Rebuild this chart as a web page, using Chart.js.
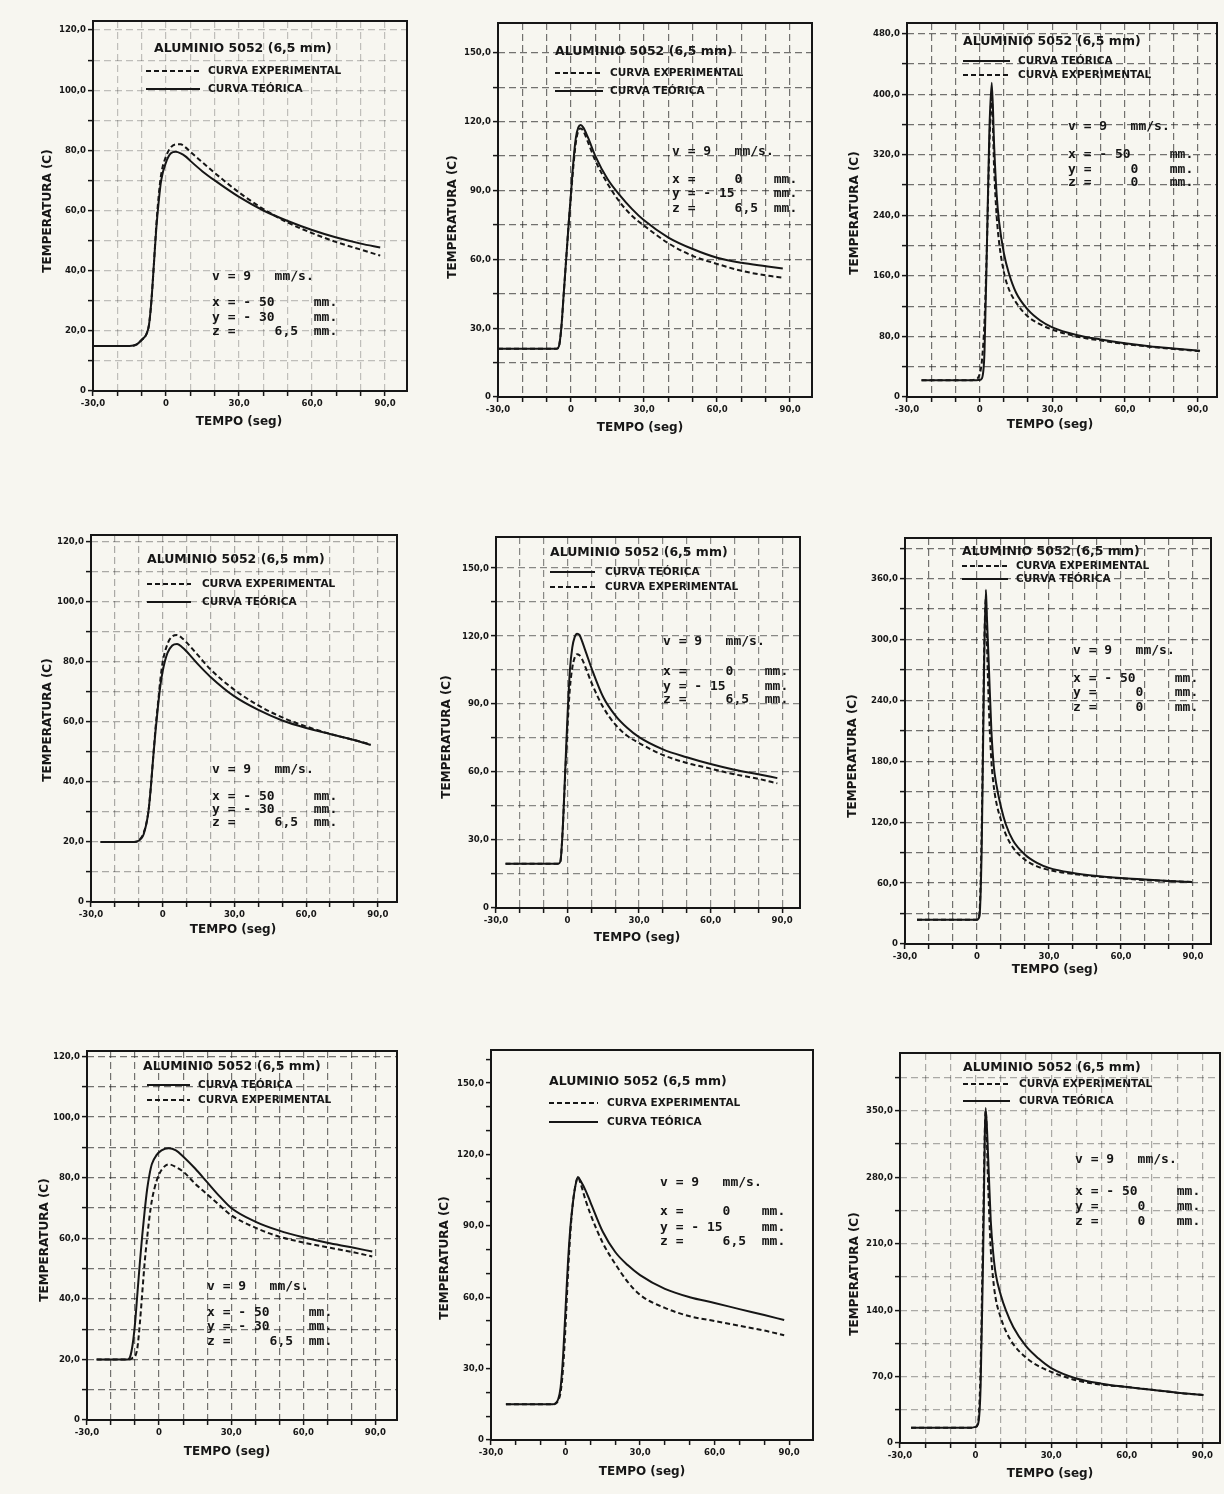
<!DOCTYPE html>
<html>
<head>
<meta charset="utf-8">
<title>Aluminio 5052 - curvas de temperatura</title>
<script src="https://cdn.jsdelivr.net/npm/chart.js@4.4.1/dist/chart.umd.min.js"></script>
<style>
    body { margin: 0; background: #f7f6f0; }
    #hoja { position: relative; width: 1224px; height: 1494px; overflow: hidden; background: #f7f6f0; }
    #hoja canvas { position: absolute; }
</style>
</head>
<body>
<div id="hoja"></div>
<script>
// Tiempos (seg) y temperaturas (C) de cada ensayo
const tiempo1 = [-30, -15, -12, -10, -8, -7, -6, -5, -4, -3, -2, 0, 2, 4, 6, 8, 10, 15, 20, 30, 40, 50, 60, 70, 80, 88];
const experimental1 = [15, 15, 15.5, 17, 19, 22, 30, 42, 55, 65, 72, 78, 81, 82, 82, 81, 79.5, 76, 72.5, 66, 60.5, 56, 52.5, 49.5, 47, 45];
const teorica1 = [15, 15, 15.5, 17, 19, 22, 30, 42, 54, 63, 70, 76, 79, 79.5, 79, 78, 76.5, 73, 70, 64.5, 60, 56.5, 53.5, 51, 49, 47.7];

const tiempo2 = [-30, -6, -5, -4, -3, -2, -1, 0, 1, 2, 3, 4, 5, 7, 10, 15, 20, 25, 30, 40, 50, 60, 70, 80, 87];
const experimental2 = [21, 21, 22, 30, 45, 60, 75, 88, 101, 111, 116, 117, 116, 111, 103, 93, 85, 79, 74.7, 67, 61.5, 58, 55, 53, 52];
const teorica2 = [21, 21, 22, 30, 45, 60, 75, 89, 103, 113, 117.5, 118.5, 117.5, 113, 105, 95, 88, 82, 77, 69.5, 64.5, 60.7, 58.5, 57, 56];

const tiempo3 = [-24, -5, -2, 0, 1, 2, 3, 4, 5, 6, 7, 8, 10, 12, 15, 20, 25, 30, 40, 50, 60, 70, 80, 91];
const experimental3 = [22, 22, 23, 30, 50, 100, 200, 330, 395, 300, 240, 205, 165, 143, 125, 106, 96, 89, 80, 74.5, 70, 66.5, 63.5, 60.5];
const teorica3 = [22, 22, 22, 22.5, 25, 60, 200, 350, 415, 330, 268, 232, 190, 164, 138, 115, 101, 92, 82, 76, 71, 67, 64, 61];

const tiempo4 = [-26, -12, -10, -8, -6, -5, -4, -3, -2, -1, 0, 2, 4, 6, 8, 10, 15, 20, 30, 40, 50, 60, 70, 80, 87];
const experimental4 = [20, 20, 20.5, 23, 30, 38, 48, 58, 66, 74, 80, 86, 88.5, 89, 88, 86.5, 82, 77.5, 70.7, 65.5, 61.5, 58.5, 56, 54, 52.5];
const teorica4 = [20, 20, 20.5, 22.5, 30, 38, 48, 57, 65, 72, 77, 83, 85.5, 86, 85, 83.5, 79, 75, 68.5, 64, 60.5, 58, 56, 54, 52.3];

const tiempo5 = [-26, -4, -3, -2, -1, 0, 1, 2, 3, 4, 5, 6, 8, 10, 15, 20, 25, 30, 40, 50, 60, 70, 80, 88];
const experimental5 = [19.5, 19.5, 20.5, 35, 58, 80, 97, 106, 110.5, 112, 111.5, 110, 105, 99.5, 88.5, 81, 76, 72.8, 67.5, 64, 61.5, 59, 57, 55];
const teorica5 = [19.5, 19.5, 20.5, 35, 60, 85, 105, 115, 119.5, 121, 120.5, 118, 112, 106, 93, 85, 79.5, 75.4, 70, 66.5, 63.5, 61, 59, 57.3];

const tiempo6 = [-25, -2, 0, 1, 2, 3, 3.7, 4, 5, 6, 7, 8, 10, 12, 15, 20, 25, 30, 40, 50, 60, 70, 80, 89.5];
const experimental6 = [24, 24, 24, 30, 120, 290, 340, 310, 230, 180, 155, 140, 122, 108, 95, 83, 76.5, 73, 69, 66.5, 64.7, 63, 62, 61];
const teorica6 = [24, 24, 24, 27, 100, 280, 349, 330, 270, 210, 175, 158, 135, 118, 102, 88, 80, 75, 70, 67, 65, 63.5, 62, 61];

const tiempo7 = [-26, -13, -12, -11, -10, -9, -8, -7, -6, -5, -4, -3, -1, 1, 4, 7, 10, 15, 20, 25, 30, 40, 50, 60, 70, 80, 88.7];
const experimental7 = [20, 20, 20, 20.5, 21, 24, 32, 42, 52, 60, 67, 72.5, 79, 82.5, 84.4, 83.5, 82, 78, 74.5, 71, 67.6, 63.5, 60.5, 58.6, 57, 55.5, 54];
const teorica7 = [20, 20, 21, 25, 32, 42, 52, 61, 69, 76, 81, 84.5, 87.5, 89, 89.7, 89, 87, 83, 78.5, 74, 70, 65.5, 62.5, 60.3, 58.5, 57, 55.6];

const tiempo8 = [-24, -5, -4, -3, -2, -1, 0, 1, 2, 3, 4, 5, 6, 8, 10, 15, 20, 25, 30, 40, 50, 60, 70, 80, 88];
const experimental8 = [15, 15, 15.3, 16.5, 20, 30, 48, 70, 88, 100, 107, 110.5, 108, 101, 95, 82.8, 74, 66.5, 61, 55.5, 52, 50, 48, 46, 44];
const teorica8 = [15, 15, 15.5, 17, 22, 35, 55, 75, 90, 100, 107, 110.5, 109, 105, 100, 87.5, 79, 73.5, 69.3, 63.5, 60, 57.6, 55, 52.5, 50.4];

const tiempo9 = [-25.6, -2, 0, 1, 2, 3, 4, 5, 6, 7, 8, 10, 12, 15, 20, 25, 30, 40, 50, 60, 70, 80, 90.4];
const experimental9 = [16, 16, 17, 22, 80, 230, 350, 270, 205, 172, 152, 132, 118, 104, 90, 81, 75, 66, 61.5, 59, 56, 53, 50.6];
const teorica9 = [16, 16, 17, 20, 60, 200, 353, 300, 235, 200, 178, 156, 140, 122, 102, 89, 79, 68, 62.5, 59, 56, 53, 50.6];

// Textos de las posiciones de medida
const VEL = 'v = 9   mm/s.';
const X50 = 'x = - 50     mm.';
const X0 = 'x =     0    mm.';
const Y30 = 'y = - 30     mm.';
const Y15 = 'y = - 15     mm.';
const Y0 = 'y =     0    mm.';
const Z65 = 'z =     6,5  mm.';
const Z0 = 'z =     0    mm.';

const TINTA = '#161616';
const SANS = '"DejaVu Sans", sans-serif';
const ETIQ = { EXP: 'CURVA EXPERIMENTAL', TEO: 'CURVA TEÓRICA' };

// caja = area del grafico en la hoja [izq, arriba, der, abajo]
const paneles = [
    { caja: [93, 21, 407, 391], xMax: 99, yMax: 123, yPaso: 10, yEtiq: 20, papel: 0.25,
      tiempo: tiempo1, exp: experimental1, teo: teorica1,
      titulo: [154, 49], leyenda: { x1: 146, x2: 200, xt: 208, filas: [['EXP', 71], ['TEO', 89]] },
      datos: { x: 212, ys: [277, 303, 318, 332], filas: [VEL, X50, Y30, Z65] },
      ejeY: [48, 211], ejeX: [239, 422] },
    { caja: [498, 23, 812, 397], xMax: 99, yMax: 163, yPaso: 15, yEtiq: 30, papel: 0.6,
      tiempo: tiempo2, exp: experimental2, teo: teorica2,
      titulo: [555, 52], leyenda: { x1: 555, x2: 603, xt: 610, filas: [['EXP', 73], ['TEO', 91]] },
      datos: { x: 672, ys: [152, 180, 194, 209], filas: [VEL, X0, Y15, Z65] },
      ejeY: [453, 217], ejeX: [640, 428] },
    { caja: [907, 23, 1217, 397], xMax: 98, yMax: 494, yPaso: 40, yEtiq: 80, papel: 0.6,
      tiempo: tiempo3, exp: experimental3, teo: teorica3,
      titulo: [963, 42], leyenda: { x1: 963, x2: 1010, xt: 1018, filas: [['TEO', 61], ['EXP', 75]] },
      datos: { x: 1068, ys: [127, 155, 170, 183], filas: [VEL, X50, Y0, Z0] },
      ejeY: [855, 213], ejeX: [1050, 425] },
    { caja: [91, 535, 397, 902], xMax: 98, yMax: 122.3, yPaso: 10, yEtiq: 20, papel: 0.35,
      tiempo: tiempo4, exp: experimental4, teo: teorica4,
      titulo: [147, 560], leyenda: { x1: 147, x2: 191, xt: 202, filas: [['EXP', 584], ['TEO', 602]] },
      datos: { x: 212, ys: [770, 797, 810, 823], filas: [VEL, X50, Y30, Z65] },
      ejeY: [48, 720], ejeX: [233, 930] },
    { caja: [496, 537, 800, 908], xMax: 97.5, yMax: 163.7, yPaso: 15, yEtiq: 30, papel: 0.5,
      tiempo: tiempo5, exp: experimental5, teo: teorica5,
      titulo: [550, 553], leyenda: { x1: 550, x2: 595, xt: 605, filas: [['TEO', 572], ['EXP', 587]] },
      datos: { x: 663, ys: [642, 672, 687, 700], filas: [VEL, X0, Y15, Z65] },
      ejeY: [447, 737], ejeX: [637, 938] },
    { caja: [905, 538, 1211, 944], xMax: 97.5, yMax: 400, yPaso: 30, yEtiq: 60, papel: 0.6,
      tiempo: tiempo6, exp: experimental6, teo: teorica6,
      titulo: [962, 552], leyenda: { x1: 962, x2: 1008, xt: 1016, filas: [['EXP', 566], ['TEO', 579]] },
      datos: { x: 1073, ys: [651, 679, 693, 708], filas: [VEL, X50, Y0, Z0] },
      ejeY: [853, 756], ejeX: [1055, 970] },
    { caja: [87, 1051, 397, 1420], xMax: 99, yMax: 121.8, yPaso: 10, yEtiq: 20, papel: 0.6,
      tiempo: tiempo7, exp: experimental7, teo: teorica7,
      titulo: [143, 1067], leyenda: { x1: 147, x2: 190, xt: 198, filas: [['TEO', 1085], ['EXP', 1100]] },
      datos: { x: 207, ys: [1287, 1313, 1327, 1342], filas: [VEL, X50, Y30, Z65] },
      ejeY: [45, 1240], ejeX: [227, 1452] },
    { caja: [491, 1050, 813, 1440], xMax: 99.6, yMax: 163.9, yPaso: 10, yEtiq: 30, papel: 0,
      tiempo: tiempo8, exp: experimental8, teo: teorica8,
      titulo: [549, 1082], leyenda: { x1: 549, x2: 598, xt: 607, filas: [['EXP', 1103], ['TEO', 1122]] },
      datos: { x: 660, ys: [1183, 1212, 1228, 1242], filas: [VEL, X0, Y15, Z65] },
      ejeY: [445, 1258], ejeX: [642, 1472] },
    { caja: [900, 1053, 1220, 1443], xMax: 97, yMax: 411, yPaso: 35, yEtiq: 70, papel: 0.35,
      tiempo: tiempo9, exp: experimental9, teo: teorica9,
      titulo: [963, 1068], leyenda: { x1: 963, x2: 1010, xt: 1019, filas: [['EXP', 1084], ['TEO', 1101]] },
      datos: { x: 1075, ys: [1160, 1192, 1207, 1222], filas: [VEL, X50, Y0, Z0] },
      ejeY: [855, 1274], ejeX: [1050, 1474] }
];

// margenes del lienzo alrededor de la caja
const M_IZQ = 100, M_ARR = 30, M_DER = 10, M_ABA = 50;
const ANCHO_Y = 45, ALTO_X = 20;

function numero(v) {
    return v === 0 ? '0' : v.toFixed(1).replace('.', ',');
}

// Marco, titulo, leyenda dibujada a mano y datos del ensayo
const rotulos = {
    id: 'rotulos',
    afterDraw(chart, args, o) {
        const { ctx, chartArea: ca } = chart;
        const px = x => x - o.ox;
        const py = y => y - o.oy;
        ctx.save();
        ctx.setLineDash([]);
        ctx.strokeStyle = TINTA;
        ctx.lineWidth = 2;
        ctx.strokeRect(ca.left, ca.top, ca.right - ca.left, ca.bottom - ca.top);

        ctx.fillStyle = TINTA;
        ctx.textBaseline = 'middle';
        ctx.textAlign = 'left';
        ctx.font = 'bold 12.5px ' + SANS;
        ctx.fillText('ALUMINIO 5052 (6,5 mm)', px(o.titulo[0]), py(o.titulo[1]));

        ctx.font = 'bold 10.5px ' + SANS;
        o.leyenda.filas.forEach(([tipo, y]) => {
            ctx.beginPath();
            ctx.lineWidth = 2;
            ctx.setLineDash(tipo === 'EXP' ? [5, 3] : []);
            ctx.moveTo(px(o.leyenda.x1), py(y));
            ctx.lineTo(px(o.leyenda.x2), py(y));
            ctx.stroke();
            ctx.setLineDash([]);
            ctx.fillText(ETIQ[tipo], px(o.leyenda.xt), py(y));
        });

        ctx.font = 'bold 13px "DejaVu Sans Mono", monospace';
        o.datos.filas.forEach((txt, i) => {
            ctx.fillText(txt, px(o.datos.x), py(o.datos.ys[i]));
        });

        ctx.font = 'bold 12px ' + SANS;
        ctx.textAlign = 'center';
        ctx.fillText('TEMPO (seg)', px(o.ejeX[0]), py(o.ejeX[1]));
        ctx.translate(px(o.ejeY[0]), py(o.ejeY[1]));
        ctx.rotate(-Math.PI / 2);
        ctx.fillText('TEMPERATURA (C)', 0, 0);
        ctx.restore();
    }
};

const hoja = document.getElementById('hoja');

paneles.forEach(p => {
    const [l, t, r, b] = p.caja;
    const ox = l - M_IZQ, oy = t - M_ARR;
    const canvas = document.createElement('canvas');
    canvas.width = r - l + M_IZQ + M_DER;
    canvas.height = b - t + M_ARR + M_ABA;
    canvas.style.left = ox + 'px';
    canvas.style.top = oy + 'px';
    hoja.appendChild(canvas);

    // papel milimetrado de fondo
    const rejilla = {
        color: 'rgba(25,25,25,' + p.papel + ')',
        lineWidth: 1.2,
        drawOnChartArea: p.papel > 0,
        drawTicks: true,
        tickLength: 5,
        tickColor: TINTA,
        tickWidth: 1.5
    };
    const fuenteEje = { family: '"DejaVu Sans Condensed", "DejaVu Sans", sans-serif', size: 9.5, weight: 'bold' };

    new Chart(canvas.getContext('2d'), {
        type: 'line',
        data: {
            datasets: [
                {
                    label: ETIQ.EXP,
                    data: p.tiempo.map((x, i) => ({ x: x, y: p.exp[i] })),
                    borderColor: TINTA,
                    borderWidth: 2,
                    borderDash: [5, 3],
                    pointRadius: 0,
                    cubicInterpolationMode: 'monotone'
                },
                {
                    label: ETIQ.TEO,
                    data: p.tiempo.map((x, i) => ({ x: x, y: p.teo[i] })),
                    borderColor: TINTA,
                    borderWidth: 2,
                    pointRadius: 0,
                    cubicInterpolationMode: 'monotone'
                }
            ]
        },
        options: {
            responsive: false,
            animation: false,
            devicePixelRatio: 1,
            layout: { padding: { left: M_IZQ - ANCHO_Y, top: M_ARR, right: M_DER, bottom: M_ABA - ALTO_X } },
            plugins: {
                legend: { display: false },
                tooltip: { enabled: false },
                rotulos: { ox: ox, oy: oy, titulo: p.titulo, leyenda: p.leyenda, datos: p.datos, ejeX: p.ejeX, ejeY: p.ejeY }
            },
            scales: {
                x: {
                    type: 'linear',
                    min: -30,
                    max: p.xMax,
                    afterFit: s => { s.height = ALTO_X; },
                    grid: rejilla,
                    border: { display: false, dash: [7, 4] },
                    ticks: {
                        stepSize: 10,
                        includeBounds: false,
                        autoSkip: false,
                        maxRotation: 0,
                        padding: 2,
                        color: TINTA,
                        font: fuenteEje,
                        callback: v => (v % 30 === 0 ? numero(v) : '')
                    }
                },
                y: {
                    min: 0,
                    max: p.yMax,
                    afterFit: s => { s.width = ANCHO_Y; },
                    grid: rejilla,
                    border: { display: false, dash: [7, 4] },
                    ticks: {
                        stepSize: p.yPaso,
                        includeBounds: false,
                        autoSkip: false,
                        padding: 2,
                        color: TINTA,
                        font: fuenteEje,
                        callback: v => (v % p.yEtiq === 0 ? numero(v) : '')
                    }
                }
            }
        },
        plugins: [rotulos]
    });
});
</script>
</body>
</html>
